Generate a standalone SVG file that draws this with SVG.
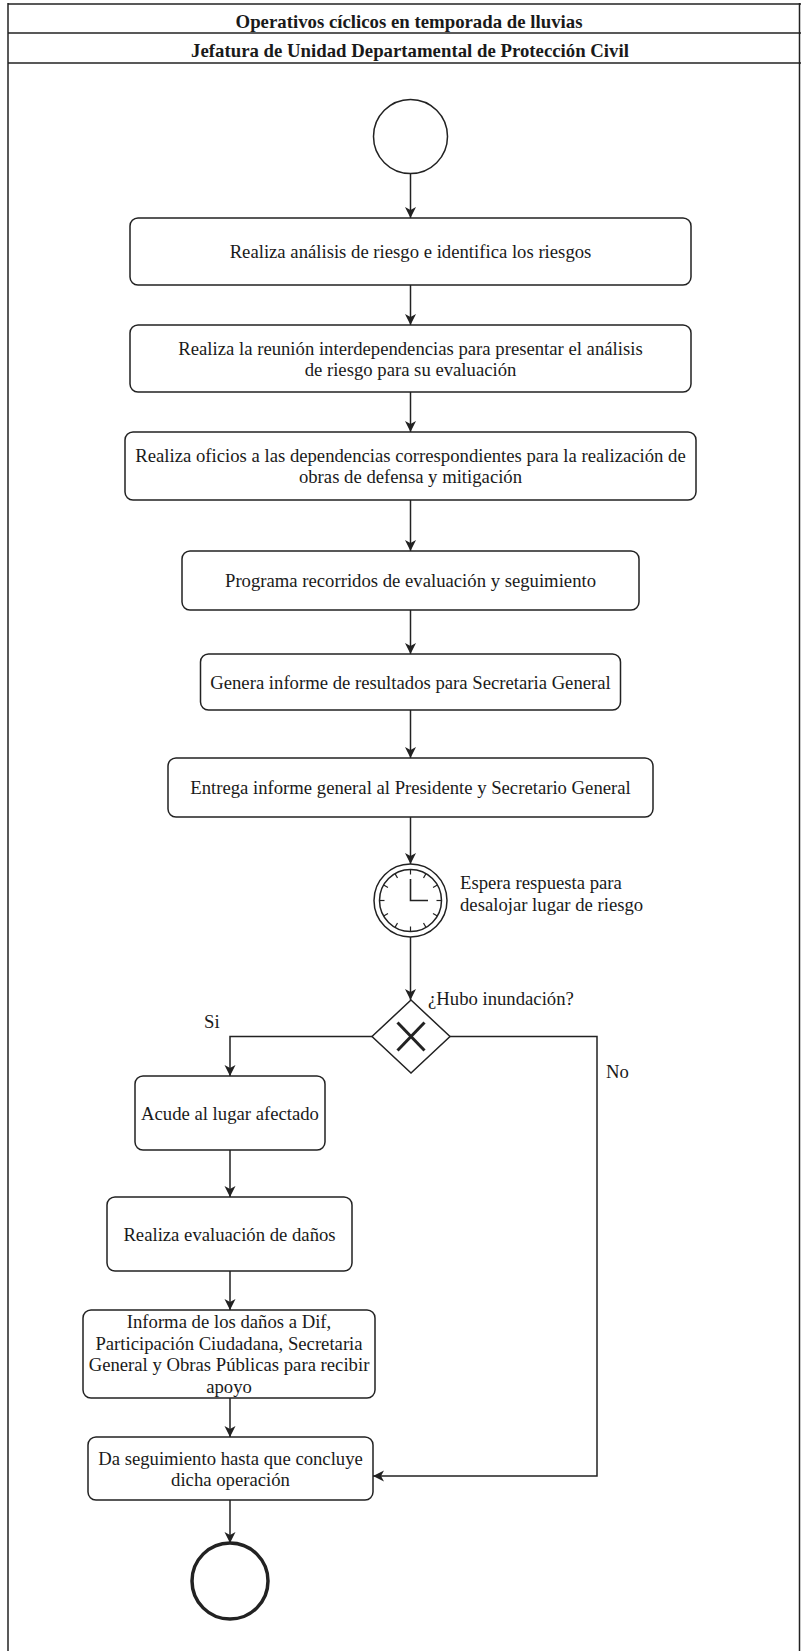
<svg xmlns="http://www.w3.org/2000/svg" width="801" height="1651" viewBox="0 0 801 1651">
<style>
.bg{fill:#ffffff}
.frame{fill:none;stroke:#222;stroke-width:1.5}
.box{fill:#ffffff;stroke:#222;stroke-width:1.5}
.t{font-family:"Liberation Serif","Times New Roman",serif;font-size:18.7px;fill:#1a1a1a;text-anchor:middle}
.tl{font-family:"Liberation Serif","Times New Roman",serif;font-size:18.7px;fill:#1a1a1a}
.h{font-family:"Liberation Serif","Times New Roman",serif;font-size:18.8px;font-weight:bold;fill:#1a1a1a;text-anchor:middle}
.c{fill:none;stroke:#222;stroke-width:1.5}
.tick{stroke:#222;stroke-width:1.2}
</style>
<defs>
<marker id="arr" markerUnits="userSpaceOnUse" markerWidth="12" markerHeight="12" refX="11" refY="6" orient="auto">
<path d="M0,0.5 L11,6 L0,11.5 L3,6 Z" fill="#222"/>
</marker>
</defs>
<rect class="bg" x="0" y="0" width="801" height="1651"/>

<g id="frame">
<line class="frame" x1="8" y1="4" x2="801" y2="4" stroke-width="2"/>
<line class="frame" x1="8" y1="33" x2="801" y2="33"/>
<line class="frame" x1="8" y1="63" x2="801" y2="63"/>
<line class="frame" x1="8" y1="3" x2="8" y2="1651"/>
<line class="frame" x1="799.5" y1="3" x2="799.5" y2="1651" stroke-width="1"/>
<text class="h" x="409" y="28">Operativos cíclicos en temporada de lluvias</text>
<text class="h" x="410" y="57">Jefatura de Unidad Departamental de Protección Civil</text>
</g>

<g id="connectors" fill="none" stroke="#222" stroke-width="1.5">
<line x1="410.5" y1="173.5" x2="410.5" y2="218" marker-end="url(#arr)"/>
<line x1="410.5" y1="285" x2="410.5" y2="325" marker-end="url(#arr)"/>
<line x1="410.5" y1="392" x2="410.5" y2="432" marker-end="url(#arr)"/>
<line x1="410.5" y1="500" x2="410.5" y2="551" marker-end="url(#arr)"/>
<line x1="410.5" y1="610" x2="410.5" y2="654" marker-end="url(#arr)"/>
<line x1="410.5" y1="710" x2="410.5" y2="758" marker-end="url(#arr)"/>
<line x1="410.5" y1="817" x2="410.5" y2="864" marker-end="url(#arr)"/>
<line x1="410.5" y1="937" x2="410.5" y2="1000" marker-end="url(#arr)"/>
<polyline points="372,1036.5 230,1036.5 230,1076" marker-end="url(#arr)"/>
<polyline points="450,1036.5 597,1036.5 597,1476 373,1476" marker-end="url(#arr)"/>
<line x1="230" y1="1150" x2="230" y2="1197" marker-end="url(#arr)"/>
<line x1="230" y1="1271" x2="230" y2="1310" marker-end="url(#arr)"/>
<line x1="230" y1="1398" x2="230" y2="1437" marker-end="url(#arr)"/>
<line x1="230" y1="1500" x2="230" y2="1543" marker-end="url(#arr)"/>
</g>

<g id="start">
<circle class="c" cx="410.5" cy="136.5" r="37"/>
</g>

<g id="n1">
<rect class="box" x="130" y="218" width="561" height="67" rx="8"/>
<text class="t" x="410.5" y="258">Realiza análisis de riesgo e identifica los riesgos</text>
</g>

<g id="n2">
<rect class="box" x="130" y="325" width="561" height="67" rx="8"/>
<text class="t" x="410.5" y="354.5">Realiza la reunión interdependencias para presentar el análisis</text>
<text class="t" x="410.5" y="375.5">de riesgo para su evaluación</text>
</g>

<g id="n3">
<rect class="box" x="125" y="432" width="571" height="68" rx="8"/>
<text class="t" x="410.5" y="461.5">Realiza oficios a las dependencias correspondientes para la realización de</text>
<text class="t" x="410.5" y="482.5">obras de defensa y mitigación</text>
</g>

<g id="n4">
<rect class="box" x="182" y="551" width="457" height="59" rx="8"/>
<text class="t" x="410.5" y="587">Programa recorridos de evaluación y seguimiento</text>
</g>

<g id="n5">
<rect class="box" x="200.5" y="654" width="420" height="56" rx="8"/>
<text class="t" x="410.5" y="688.5">Genera informe de resultados para Secretaria General</text>
</g>

<g id="n6">
<rect class="box" x="168" y="758" width="485" height="59" rx="8"/>
<text class="t" x="410.5" y="794">Entrega informe general al Presidente y Secretario General</text>
</g>

<g id="timer">
<circle class="c" cx="410.5" cy="900.5" r="36.5"/>
<circle class="c" cx="410.5" cy="900.5" r="31"/>
<g class="tick">
<line x1="410.5" y1="869.5" x2="410.5" y2="874.5"/>
<line x1="426" y1="873.65" x2="423.5" y2="877.98"/>
<line x1="437.35" y1="885" x2="433.02" y2="887.5"/>
<line x1="441.5" y1="900.5" x2="436.5" y2="900.5"/>
<line x1="437.35" y1="916" x2="433.02" y2="913.5"/>
<line x1="426" y1="927.35" x2="423.5" y2="923.02"/>
<line x1="410.5" y1="931.5" x2="410.5" y2="926.5"/>
<line x1="395" y1="927.35" x2="397.5" y2="923.02"/>
<line x1="383.65" y1="916" x2="387.98" y2="913.5"/>
<line x1="379.5" y1="900.5" x2="384.5" y2="900.5"/>
<line x1="383.65" y1="885" x2="387.98" y2="887.5"/>
<line x1="395" y1="873.65" x2="397.5" y2="877.98"/>
</g>
<polyline points="410.5,879 410.5,900.5 428,900.5" fill="none" stroke="#222" stroke-width="1.6"/>
<text class="tl" x="460" y="889">Espera respuesta para</text>
<text class="tl" x="460" y="911">desalojar lugar de riesgo</text>
</g>

<g id="gateway">
<polygon points="411,1000 450,1036.5 411,1073 372,1036.5" fill="#ffffff" stroke="#222" stroke-width="1.5"/>
<line x1="397.5" y1="1022.5" x2="424.5" y2="1050.5" stroke="#222" stroke-width="3"/>
<line x1="424.5" y1="1022.5" x2="397.5" y2="1050.5" stroke="#222" stroke-width="3"/>
<text class="tl" x="428" y="1005">¿Hubo inundación?</text>
<text class="tl" x="204" y="1028">Si</text>
<text class="tl" x="606" y="1078">No</text>
</g>

<g id="n7">
<rect class="box" x="135" y="1076" width="190" height="74" rx="8"/>
<text class="t" x="230" y="1119.5">Acude al lugar afectado</text>
</g>

<g id="n8">
<rect class="box" x="107" y="1197" width="245" height="74" rx="8"/>
<text class="t" x="229.5" y="1240.5">Realiza evaluación de daños</text>
</g>

<g id="n9">
<rect class="box" x="83" y="1310" width="292" height="88" rx="8"/>
<text class="t" x="229" y="1328">Informa de los daños a Dif,</text>
<text class="t" x="229" y="1349.5">Participación Ciudadana, Secretaria</text>
<text class="t" x="229" y="1371">General y Obras Públicas para recibir</text>
<text class="t" x="229" y="1392.5">apoyo</text>
</g>

<g id="n10">
<rect class="box" x="88" y="1437" width="285" height="63" rx="8"/>
<text class="t" x="230.5" y="1464.5">Da seguimiento hasta que concluye</text>
<text class="t" x="230.5" y="1485.5">dicha operación</text>
</g>

<g id="end">
<circle cx="230" cy="1581" r="38" fill="none" stroke="#222" stroke-width="3.5"/>
</g>
</svg>
